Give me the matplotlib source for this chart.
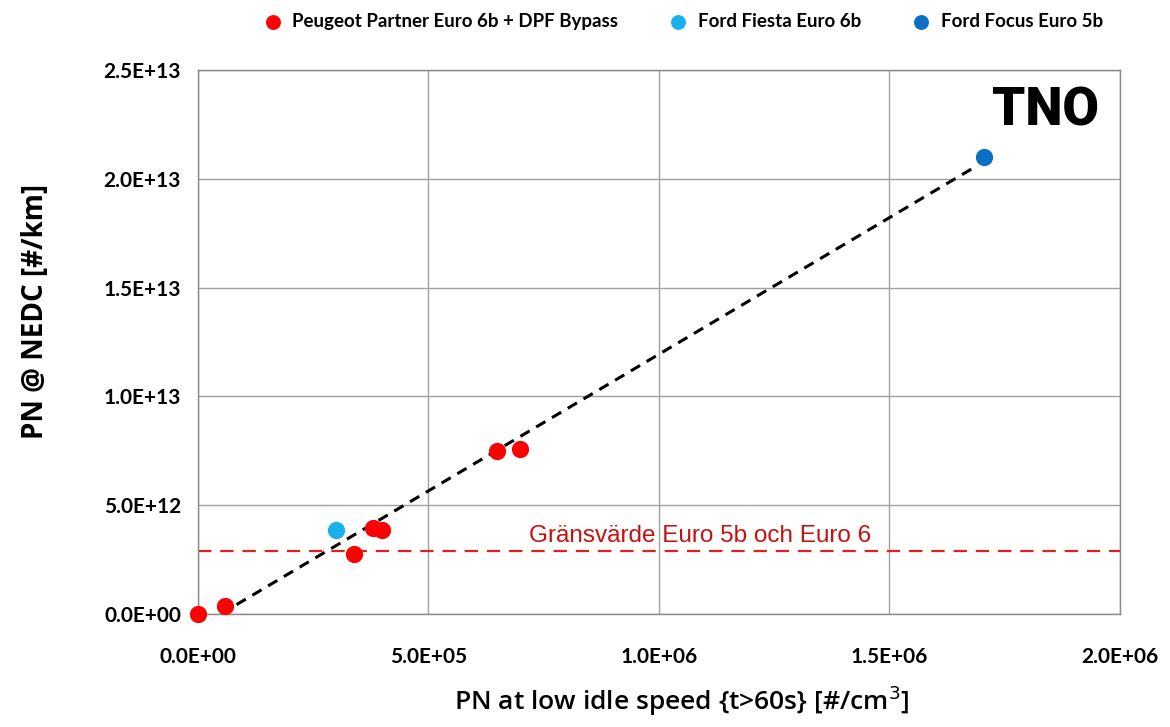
import matplotlib

matplotlib.use("Agg")
import matplotlib.pyplot as plt  # noqa: E402
from matplotlib.ticker import FuncFormatter, MultipleLocator  # noqa: E402

# PN at idle [#/cm3] vs PN over NEDC [#/km]
peugeot_x = [0.0, 6.0e4, 3.4e5, 3.8e5, 4.0e5, 6.5e5, 7.0e5]
peugeot_y = [0.0, 3.5e11, 2.75e12, 3.95e12, 3.85e12, 7.5e12, 7.6e12]
fiesta_x = [3.0e5]
fiesta_y = [3.85e12]
focus_x = [1.705e6]
focus_y = [2.1e13]
trend_x = [5.0e4, 1.69e6]
trend_y = [0.0, 2.06e13]
limit_y = 2.9e12


def sci(v, _pos):
    return f"{v:.1E}"


def main() -> None:
    fig = plt.figure(figsize=(11.7, 7.27), dpi=100)
    ax = fig.add_axes([0.169, 0.1555, 0.788, 0.748])

    ax.axhline(limit_y, color="#e02020", ls=(0, (6, 4)), lw=1.6, zorder=2)
    ax.plot(trend_x, trend_y, color="black", ls=(0, (3.5, 2.5)), lw=2.2, zorder=3)

    ms = 130
    ax.scatter(peugeot_x, peugeot_y, s=ms, color="#ff0000", zorder=4,
               label="Peugeot Partner Euro 6b + DPF Bypass", clip_on=False)
    ax.scatter(fiesta_x, fiesta_y, s=ms, color="#1ab0ee", zorder=4,
               label="Ford Fiesta Euro 6b")
    ax.scatter(focus_x, focus_y, s=ms, color="#0b70c4", zorder=4,
               label="Ford Focus Euro 5b")

    ax.text(1.09e6, limit_y + 0.2e12, "Gränsvärde Euro 5b och Euro 6",
            color="#c81010", fontsize=17.5, family="Liberation Sans",
            ha="center", va="bottom")
    ax.text(0.978, 0.925, "TNO", transform=ax.transAxes, ha="right", va="center",
            fontsize=38, fontweight="heavy", family="Roboto", color="black")

    ax.set_xlim(0, 2.0e6)
    ax.set_ylim(0, 2.5e13)
    ax.xaxis.set_major_locator(MultipleLocator(5e5))
    ax.yaxis.set_major_locator(MultipleLocator(5e12))
    ax.xaxis.set_major_formatter(FuncFormatter(sci))
    ax.yaxis.set_major_formatter(FuncFormatter(sci))
    ax.grid(True, color="#a0a0a0", lw=1.0)
    ax.set_axisbelow(True)
    for sp in ax.spines.values():
        sp.set_color("#888888")
        sp.set_linewidth(1.0)
    ax.tick_params(axis="y", length=0, pad=12, labelsize=15)
    ax.tick_params(axis="x", length=0, pad=24, labelsize=15)
    for lab in ax.get_xticklabels() + ax.get_yticklabels():
        lab.set_fontweight("bold")
        lab.set_family("Lato")

    ax.set_xlabel("PN at low idle speed {t>60s} [#/cm$^3$]", fontsize=19,
                  family="Open Sans", fontweight="semibold")
    ax.xaxis.set_label_coords(0.525, -0.127)
    ax.set_ylabel("PN @ NEDC [#/km]", fontsize=20, family="Open Sans",
                  fontweight="bold")
    ax.yaxis.set_label_coords(-0.16, 0.557)

    fig.legend(loc="upper center", bbox_to_anchor=(0.58, 1.005), ncol=3,
               frameon=False, handletextpad=0.05, columnspacing=2.2,
               markerscale=0.85, prop={"family": "Lato", "weight": "bold", "size": 13.5})

    fig.savefig("out.png", dpi=100)


if __name__ == "__main__":
    main()
